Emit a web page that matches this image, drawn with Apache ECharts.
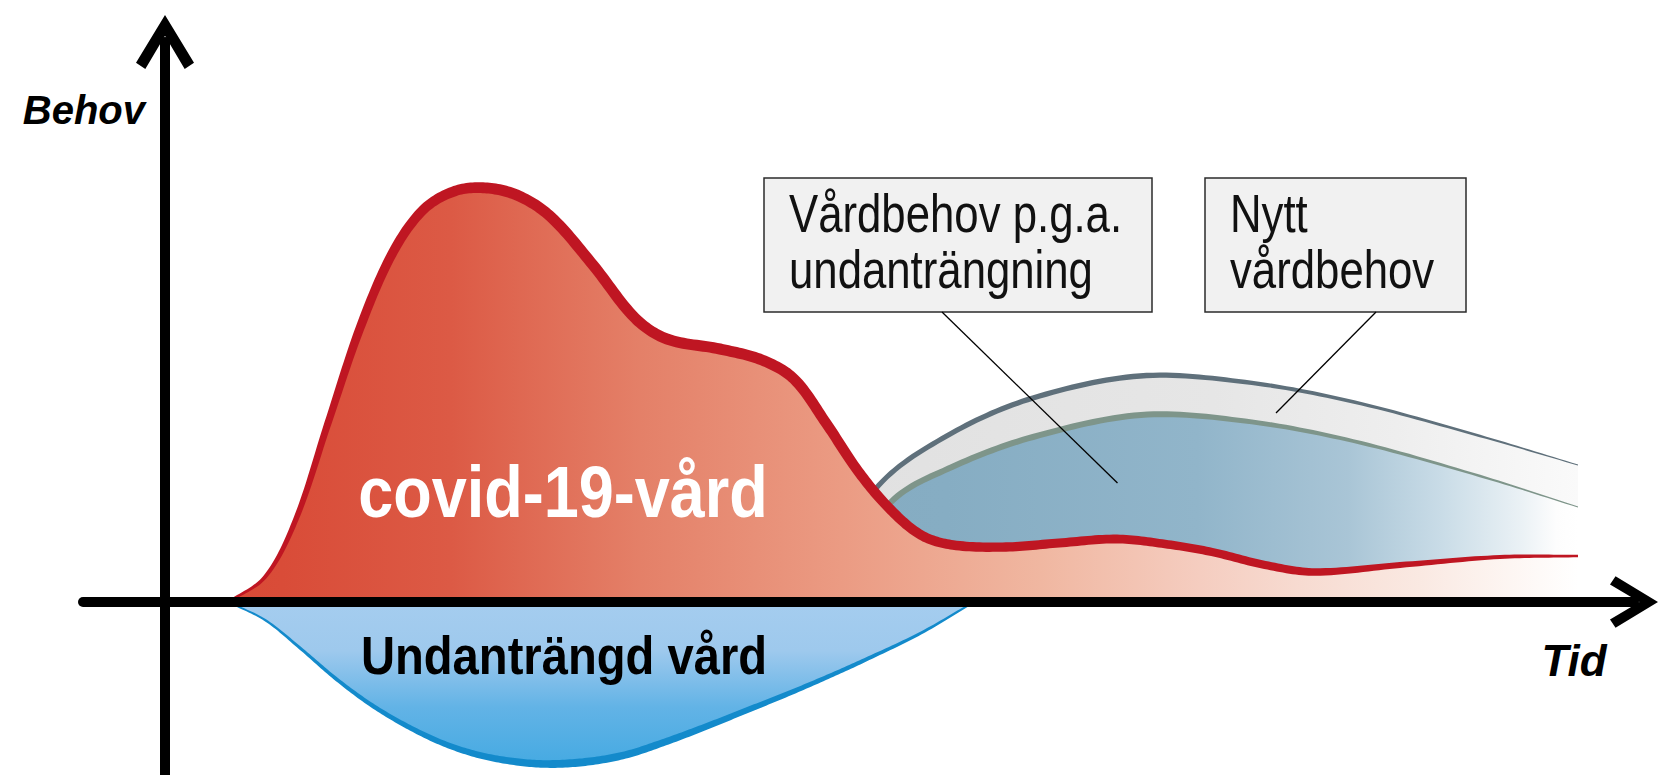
<!DOCTYPE html>
<html lang="sv">
<head>
<meta charset="utf-8">
<title>Covid-19-vård och undanträngd vård</title>
<script src="https://cdn.jsdelivr.net/npm/echarts@6/dist/echarts.min.js"></script>
<style>
  html, body { margin: 0; padding: 0; background: #fff; }
  #chart { width: 1660px; height: 775px; }
</style>
</head>
<body>
<div id="chart"></div>
<script>
// kurvor: x = tid, y = behov (godtyckliga enheter)
var covidCare = [
  [6.3, 0], [10, 2.5], [13.1, 8.3], [16.3, 17.9], [19.5, 27.4], [22.7, 34.8],
  [25.8, 39.2], [29.0, 41.1], [32.2, 41.4], [35.4, 40.6], [38.6, 38.5], [42.8, 33.7],
  [47.0, 28.4], [50.2, 26.3], [55.5, 25.3], [59.7, 24.2], [62.9, 22.3], [66.1, 17.9],
  [69.3, 13.1], [72.4, 9.4], [75.6, 6.7], [78.8, 5.7], [84.1, 5.5], [89.4, 5.9],
  [95.2, 6.3], [100, 5.8], [104.7, 5.0], [110, 3.7], [115, 3.0], [123.5, 3.7],
  [133.5, 4.5], [141.3, 4.6]
];
var newNeed = [
  [68.5, 5.7], [71.4, 11.7], [78.7, 16.9], [86.8, 20.4], [97.5, 22.6], [108, 22.0],
  [118.9, 20.0], [131.5, 16.6], [141.3, 13.7]
];
var displacedNeed = [
  [69.5, 4.2], [72.6, 10.0], [78.7, 13.5], [86.8, 16.5], [97.6, 18.7], [108, 18.1],
  [118.8, 16.1], [131.5, 12.6], [141.3, 9.5]
];
var displacedCare = [
  [6.3, 0], [10, -1.8], [13.5, -4.6], [17, -7.6], [20.5, -10.2], [24, -12.3],
  [27.5, -14.0], [31, -15.2], [34.5, -15.9], [38, -16.2], [42, -16.0], [46, -15.3],
  [50, -14.0], [54, -12.5], [58, -10.9], [62, -9.3], [66, -7.6], [70, -5.8],
  [75.6, -3.1], [80.9, 0]
];

var axisNames = ['Tid', 'Behov'];
var areaLabels = ['covid-19-vård', 'Undanträngd vård'];
var boxLabels = ['Vårdbehov p.g.a.\nundanträngning', 'Nytt\nvårdbehov'];

var sans = 'Liberation Sans, Arial, sans-serif';
var chevron = 'path://M28,0 L56,46 L47,52 L28,20 L9,52 L0,46 Z';

function grad(horizontal, stops) {
  return new echarts.graphic.LinearGradient(0, 0, horizontal ? 1 : 0, horizontal ? 0 : 1,
    stops.map(function (s) { return { offset: s[0], color: s[1] }; }));
}

// jämn kurva genom punkterna (kubiska bezier, tangent från grannpunkterna)
function smoothSamples(pts) {
  var n = pts.length, out = [pts[0]];
  var tan = pts.map(function (p, i) {
    var a = pts[Math.max(i - 1, 0)], b = pts[Math.min(i + 1, n - 1)];
    var dx = b[0] - a[0], dy = b[1] - a[1], l = Math.hypot(dx, dy) || 1;
    return [dx / l, dy / l];
  });
  for (var i = 0; i < n - 1; i++) {
    var p0 = pts[i], p3 = pts[i + 1];
    var d = Math.hypot(p3[0] - p0[0], p3[1] - p0[1]) / 3;
    var p1 = [p0[0] + tan[i][0] * d, p0[1] + tan[i][1] * d];
    var p2 = [p3[0] - tan[i + 1][0] * d, p3[1] - tan[i + 1][1] * d];
    for (var k = 1; k <= 16; k++) {
      var t = k / 16, s = 1 - t;
      var b0 = s * s * s, b1 = 3 * s * s * t, b2 = 3 * s * t * t, b3 = t * t * t;
      out.push([b0 * p0[0] + b1 * p1[0] + b2 * p2[0] + b3 * p3[0],
                b0 * p0[1] + b1 * p1[1] + b2 * p2[1] + b3 * p3[1]]);
    }
  }
  return out;
}

// linje med varierande tjocklek, profile = [[andel av bredden, px], ...]
function widthAt(profile, u) {
  for (var i = 1; i < profile.length; i++) {
    if (u <= profile[i][0]) {
      var a = profile[i - 1], b = profile[i];
      return a[1] + (b[1] - a[1]) * (u - a[0]) / (b[0] - a[0]);
    }
  }
  return profile[profile.length - 1][1];
}

function ribbon(samples, profile) {
  var left = [], right = [], n = samples.length;
  var x0 = samples[0][0], x1 = samples[n - 1][0];
  samples.forEach(function (p, i) {
    var a = samples[Math.max(i - 1, 0)], b = samples[Math.min(i + 1, n - 1)];
    var dx = b[0] - a[0], dy = b[1] - a[1], l = Math.hypot(dx, dy) || 1;
    var w = widthAt(profile, (p[0] - x0) / (x1 - x0)) / 2;
    left.push([p[0] - dy / l * w, p[1] + dx / l * w]);
    right.push([p[0] + dy / l * w, p[1] - dx / l * w]);
  });
  return left.concat(right.reverse());
}

function curveSeries(name, data, z, lineColor, profile, fill) {
  return {
    type: 'custom', name: name, data: data, z: z, clip: false, silent: true,
    renderItem: function (params, api) {
      if (params.dataIndex !== 0) return null;
      var px = data.map(function (d) { return api.coord(d); });
      var samples = smoothSamples(px);
      var y0 = api.coord([0, 0])[1];
      var area = samples.concat([[samples[samples.length - 1][0], y0], [samples[0][0], y0]]);
      return {
        type: 'group',
        children: [
          { type: 'polygon', shape: { points: area }, style: { fill: fill } },
          { type: 'polygon', shape: { points: ribbon(samples, profile) }, style: { fill: lineColor } }
        ]
      };
    }
  };
}

var chart = echarts.init(document.getElementById('chart'), null, { renderer: 'svg' });

var hidden = { axisTick: { show: false }, axisLabel: { show: false }, splitLine: { show: false } };

chart.setOption({
  animation: false,
  backgroundColor: '#fff',
  grid: { left: 83, right: 26, top: 42, bottom: 0, outerBoundsMode: 'none' },
  xAxis: Object.assign({
    type: 'value', min: -8.2, max: 146.9, z: 10,
    axisLine: {
      onZero: true, symbol: ['none', chevron], symbolSize: [58, 48],
      lineStyle: { color: '#000', width: 10, cap: 'round' }
    }
  }, hidden),
  yAxis: Object.assign({
    type: 'value', min: -17.3, max: 56, z: 10,
    axisLine: {
      onZero: true, symbol: ['none', chevron], symbolSize: [58, 68],
      lineStyle: { color: '#000', width: 10, cap: 'round' }
    }
  }, hidden),
  series: [
    curveSeries('Nytt vårdbehov', newNeed, 1, '#5f707b',
      [[0, 5], [0.4, 5.5], [0.6, 4], [0.85, 2.5], [1, 1]],
      grad(true, [[0, '#e1e1e1'], [0.5, '#e6e6e6'], [0.75, '#eeeeee'], [1, '#fafafa']])),
    curveSeries('Vårdbehov p.g.a. undanträngning', displacedNeed, 2, '#7e958a',
      [[0, 6], [0.4, 6], [0.6, 4.5], [0.85, 2.5], [1, 1]],
      grad(true, [[0, '#85acc2'], [0.12, '#86adc3'], [0.47, '#91b5ca'], [0.68, '#a9c5d6'],
        [0.81, '#c9dce7'], [0.92, '#eaf1f5'], [0.97, '#fdfdfd'], [1, '#ffffff']])),
    curveSeries('covid-19-vård', covidCare, 3, '#bf1622',
      [[0, 2], [0.03, 4], [0.1, 9], [0.2, 11], [0.4, 11], [0.55, 9.5], [0.79, 8], [0.94, 4], [1, 2.5]],
      grad(true, [[0, '#d84a36'], [0.04, '#d94c38'], [0.165, '#dc5a45'], [0.305, '#e48068'],
        [0.454, '#eb9b83'], [0.602, '#f0b7a1'], [0.72, '#f5cdc0'], [0.794, '#f7dbd1'],
        [0.883, '#fae9e2'], [0.972, '#fefaf8'], [1, '#ffffff']])),
    curveSeries('Undanträngd vård', displacedCare, 3, '#138acb',
      [[0, 1.5], [0.2, 4.5], [0.45, 8], [0.6, 7], [0.85, 4], [1, 2]],
      grad(false, [[0, '#a5cdef'], [0.3, '#9ec9ed'], [0.65, '#62b3e6'], [1, '#46aae2']]))
  ]
});

// texter och rutor placeras i diagrammets koordinater
function p(x, y) { return chart.convertToPixel({ gridIndex: 0 }, [x, y]); }

function textAt(pt, text, opts, scaleX) {
  return {
    type: 'text', x: pt[0], y: pt[1], z: 30, scaleX: scaleX || 1, silent: true,
    style: Object.assign({ text: text, align: 'center', verticalAlign: 'middle' }, opts)
  };
}

function box(tl, br, text) {
  var a = p(tl[0], tl[1]), b = p(br[0], br[1]);
  return [
    {
      type: 'rect', z: 20, silent: true,
      shape: { x: a[0], y: a[1], width: b[0] - a[0], height: b[1] - a[1] },
      style: { fill: '#f1f1f1', stroke: '#2b2b2b', lineWidth: 1.5 }
    },
    textAt([a[0] + 25, (a[1] + b[1]) / 2 - 4], text, {
      align: 'left', fontFamily: sans, fontSize: 54, lineHeight: 56, fill: '#111'
    }, 0.81)
  ];
}

function leader(from, to) {
  var a = p(from[0], from[1]), b = p(to[0], to[1]);
  return {
    type: 'line', z: 25, silent: true,
    shape: { x1: a[0], y1: a[1], x2: b[0], y2: b[1] },
    style: { stroke: '#000', lineWidth: 1.3 }
  };
}

var elements = []
  .concat(box([59.9, 42.4], [98.7, 29.0], boxLabels[0]))
  .concat(box([104.0, 42.4], [130.1, 29.0], boxLabels[1]))
  .concat([
    leader([77.7, 29.0], [95.25, 11.9]),
    leader([121.1, 29.0], [111.1, 18.9]),
    textAt(p(39.8, 11.0), areaLabels[0], {
      fontFamily: sans, fontWeight: 'bold', fontSize: 72, fill: '#fff'
    }, 0.875),
    textAt(p(39.9, -5.4), areaLabels[1], {
      fontFamily: sans, fontWeight: 'bold', fontSize: 53, fill: '#000'
    }, 0.89),
    textAt(p(-2.0, 49.2), axisNames[1], {
      align: 'right', fontFamily: sans,
      fontWeight: 'bold', fontStyle: 'italic', fontSize: 40, fill: '#000'
    }),
    textAt(p(140.9, -5.8), axisNames[0], {
      fontFamily: sans, fontWeight: 'bold', fontStyle: 'italic', fontSize: 44, fill: '#000'
    })
  ]);

chart.setOption({ graphic: { elements: elements } });
</script>
</body>
</html>
